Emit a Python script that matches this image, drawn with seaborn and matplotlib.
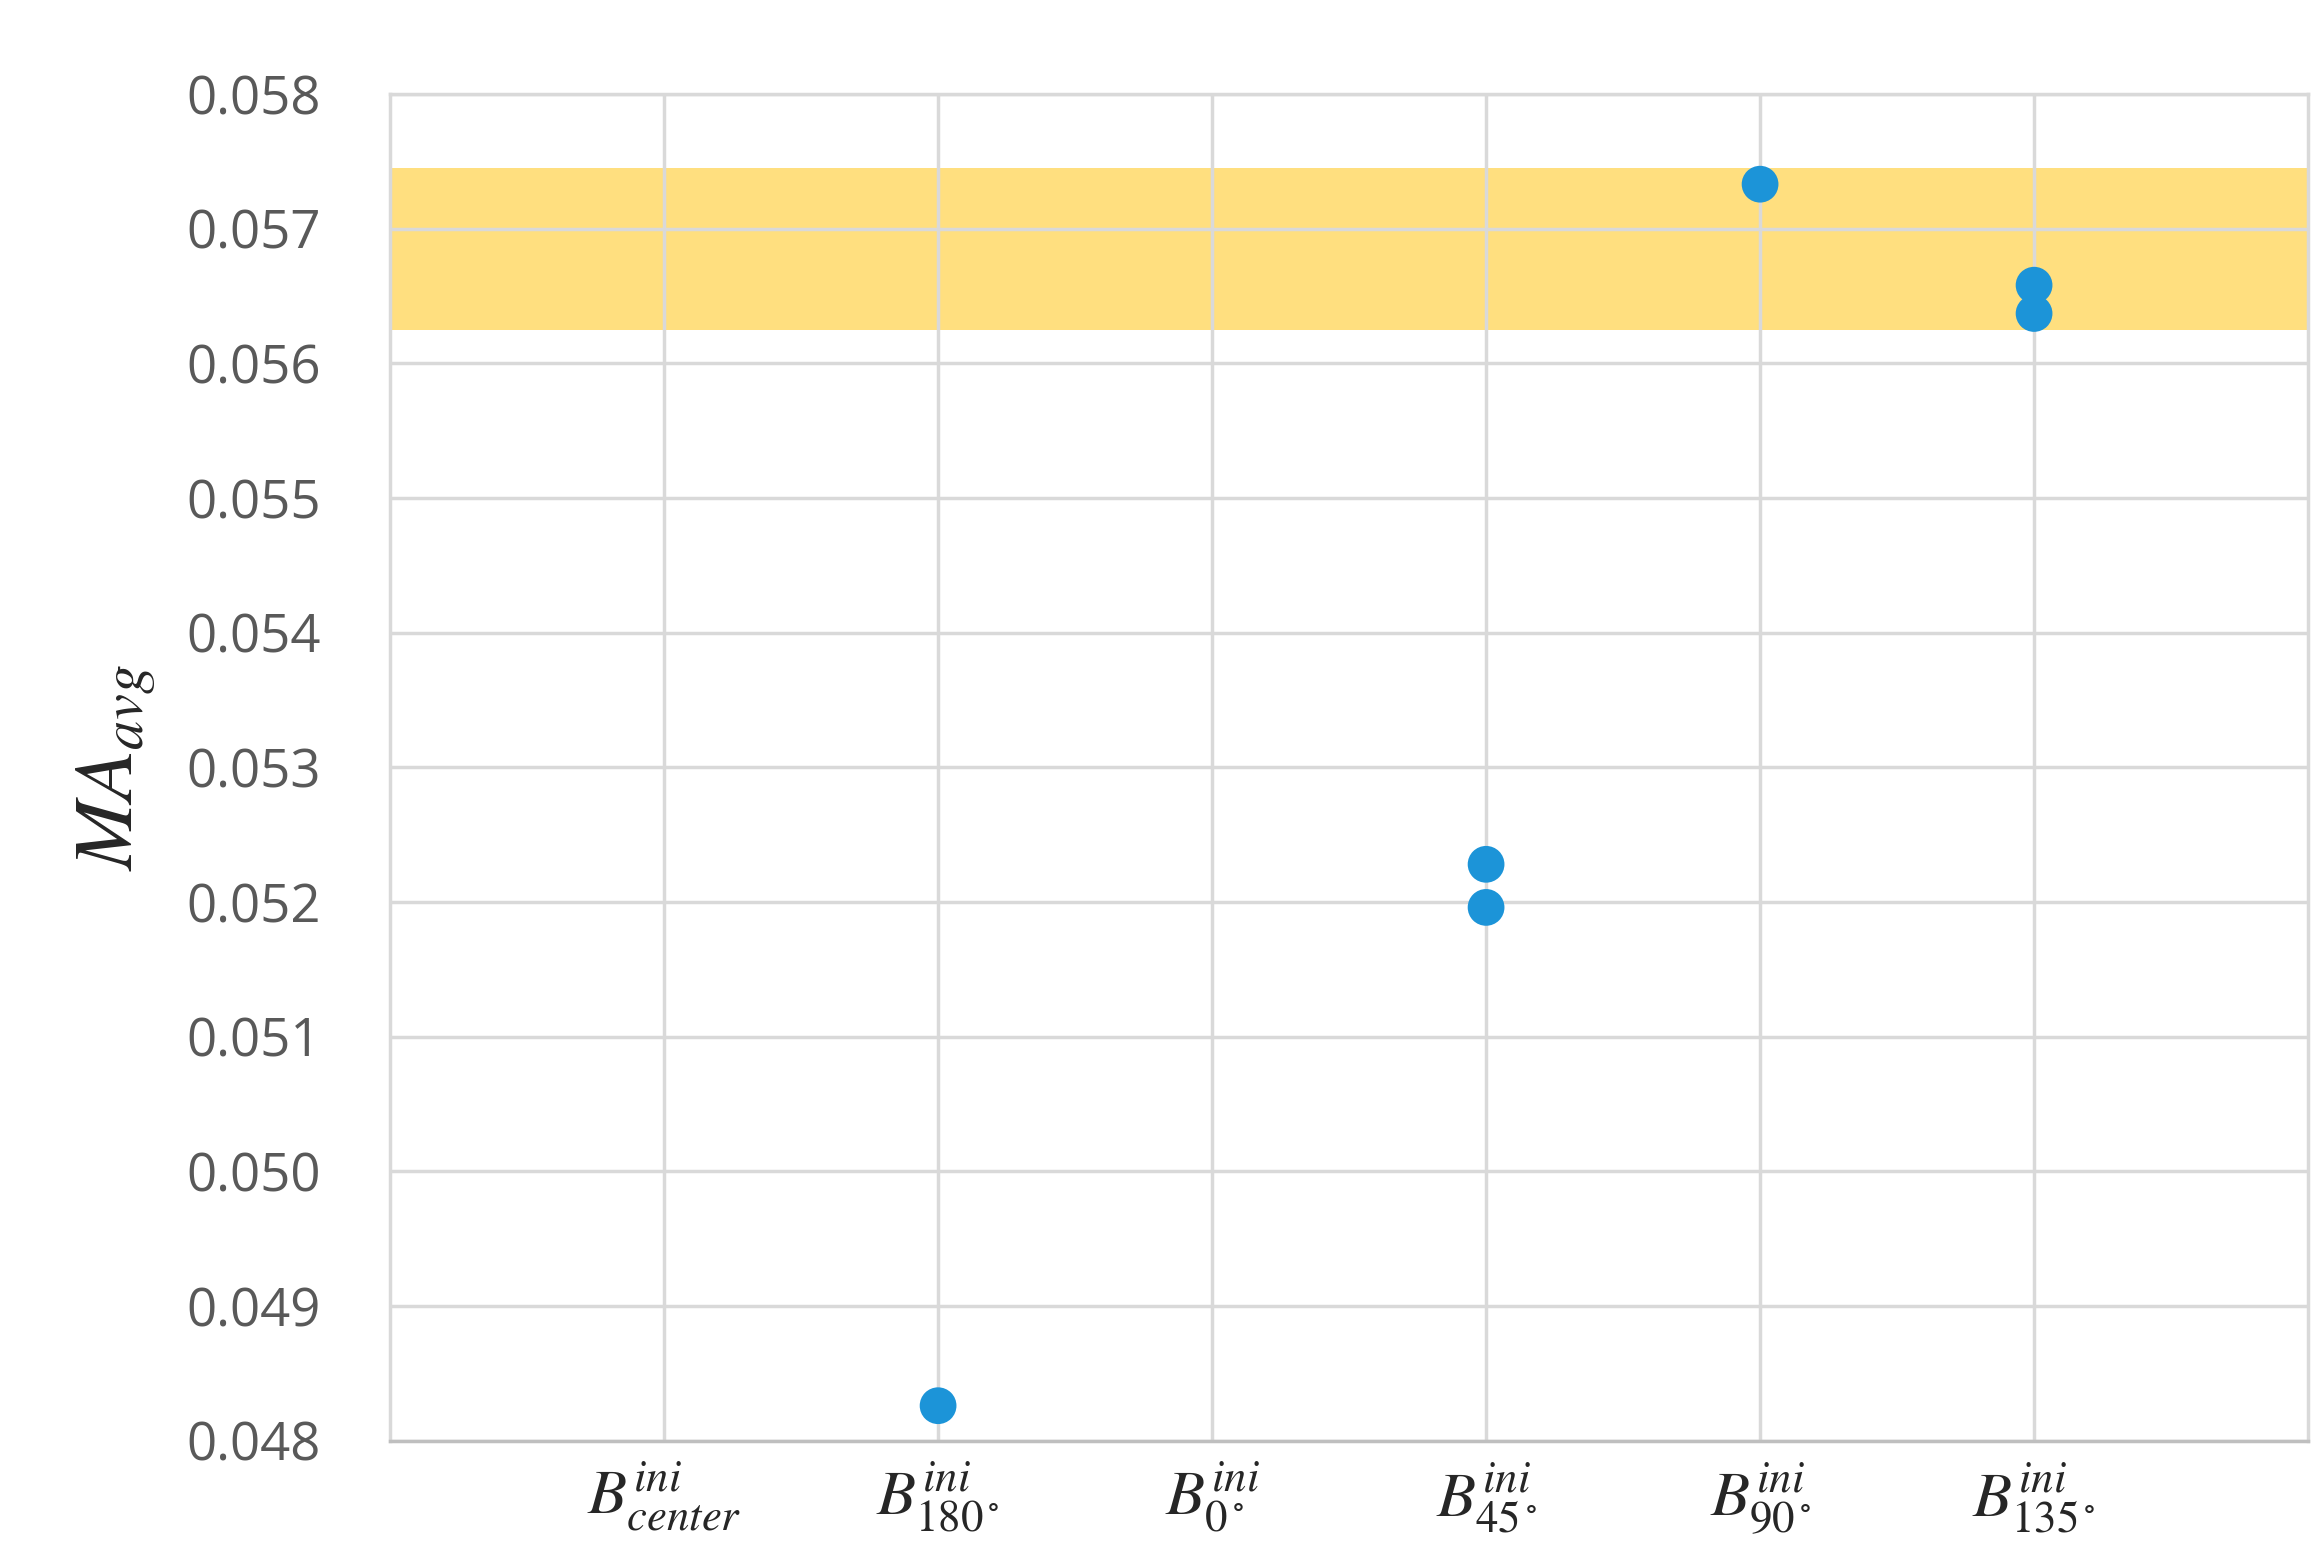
import pandas as pd
import matplotlib.pyplot as plt
import seaborn as sns

# category labels and positions on the x axis
labels = [r"$B^{ini}_{center}$", r"$B^{ini}_{180^\circ}$", r"$B^{ini}_{0^\circ}$",
          r"$B^{ini}_{45^\circ}$", r"$B^{ini}_{90^\circ}$", r"$B^{ini}_{135^\circ}$"]
cat_pos = [1, 2, 3, 4, 5, 6]

# observed points (category index, MA_avg)
pt_cat = [2, 4, 4, 5, 6, 6]
pt_val = [0.04826, 0.05228, 0.05196, 0.05733, 0.05658, 0.05637]

# highlighted band
band_lo, band_hi = 0.05625, 0.05745

df = pd.DataFrame({"cat": pt_cat, "val": pt_val})

sns.set_style("white")
plt.rcParams["font.family"] = ["Open Sans", "DejaVu Sans"]
plt.rcParams["mathtext.fontset"] = "stix"

fig = plt.figure(figsize=(23.22, 15.66), dpi=100)
ax = fig.add_axes([0.168, 0.08, 0.826, 0.86])

ax.axhspan(band_lo, band_hi, color="#ffdf7f", zorder=0, lw=0)
sns.scatterplot(data=df, x="cat", y="val", ax=ax, s=700, color="#1c94d8",
                edgecolor="none", zorder=3)

ax.set_xlim(0, 7)
ax.set_ylim(0.048, 0.058)
ax.set_yticks([0.048 + 0.001 * i for i in range(11)])
ax.yaxis.set_major_formatter(plt.FuncFormatter(lambda v, p: f"{v:.3f}"))
ax.set_xticks(cat_pos)
ax.set_xticklabels(labels, fontsize=46)
ax.tick_params(axis="y", labelsize=38, labelcolor="#595959", length=0, pad=50)
ax.tick_params(axis="x", length=0, pad=14)

ax.grid(True, color="#d9d9d9", lw=2.5, zorder=1)
ax.set_axisbelow(True)
for s in ax.spines.values():
    s.set_color("#d9d9d9")
    s.set_linewidth(2.5)
ax.spines["bottom"].set_color("#bfbfbf")

ax.set_xlabel("")
ax.set_ylabel(r"$MA_{avg}$", fontsize=60, labelpad=20)

fig.savefig("out.png", dpi=100)
